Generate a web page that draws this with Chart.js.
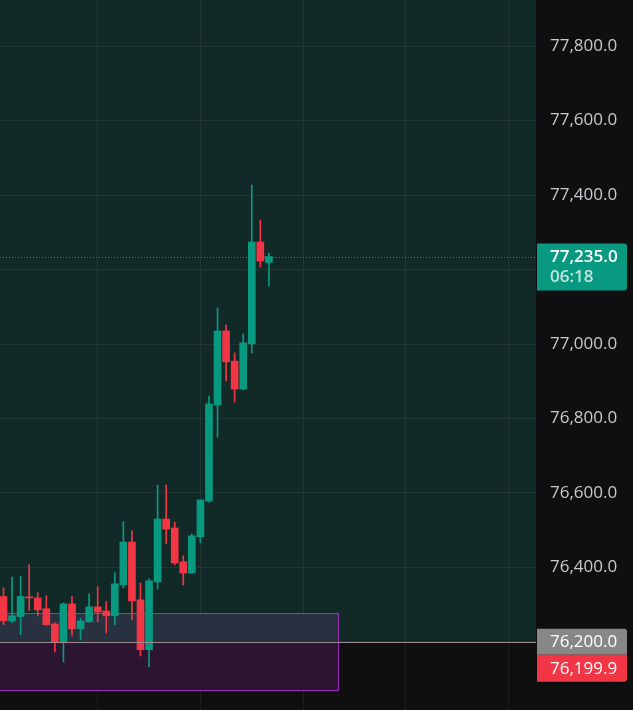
<!DOCTYPE html>
<html>
<head>
<meta charset="utf-8">
<title>Candles</title>
<script src="https://cdn.jsdelivr.net/npm/chart.js@4/dist/chart.umd.min.js"></script>
<style>
html, body { margin: 0; padding: 0; background: #0f0f0f; }
#wrap { width: 633px; height: 710px; position: relative; }
</style>
</head>
<body>
<div id="wrap"><canvas id="candles"></canvas></div>
<script>
// candle values, one per bar (oldest first)
var opens  = [76322, 76256, 76268, 76321, 76318, 76289, 76248, 76200, 76302, 76235, 76254, 76294, 76283, 76270, 76353, 76468,
              76313, 76179, 76361, 76530, 76506, 76415, 76385, 76482, 76578, 76836, 77035, 76954, 76879, 77000, 77274, 77219];
var highs  = [76345, 76374, 76377, 76407, 76332, 76324, 76251, 76305, 76322, 76264, 76329, 76348, 76308, 76386, 76523, 76498,
              76358, 76369, 76621, 76621, 76522, 76431, 76490, 76582, 76860, 77097, 77051, 76976, 77027, 77427, 77333, 77244];
var lows   = [76246, 76251, 76219, 76284, 76270, 76244, 76173, 76146, 76216, 76205, 76252, 76254, 76224, 76246, 76345, 76259,
              76162, 76133, 76342, 76463, 76407, 76353, 76383, 76466, 76575, 76750, 76901, 76844, 76877, 76976, 77207, 77156];
var closes = [76257, 76270, 76322, 76318, 76286, 76246, 76200, 76302, 76235, 76256, 76294, 76280, 76270, 76356, 76468, 76310,
              76179, 76364, 76530, 76503, 76412, 76385, 76485, 76581, 76839, 77035, 76952, 76879, 77003, 77274, 77223, 77235];

var priceTicks = [76200, 76400, 76600, 76800, 77000, 77200, 77400, 77600, 77800];
var timeGrid = [11, 23, 35, 47, 59];

var lastPrice = 77235;
var countdown = "06:18";
var levelPrice = 76200;
var bidPrice = 76199.9;

// rectangle drawing (bar index range, price range)
var zoneStart = -5;
var zoneEnd = 39.1;
var zoneTop = 76277;
var zoneBottom = 76070;

var UP = '#089981';
var DOWN = '#f23645';

function fmt(v) {
    return v.toLocaleString('en-US', { minimumFractionDigits: 1, maximumFractionDigits: 1 });
}

var colors = opens.map(function (o, i) { return closes[i] >= o ? UP : DOWN; });

var backdrop = {
    id: 'backdrop',
    beforeDraw: function (chart) {
        var ctx = chart.ctx, area = chart.chartArea, y = chart.scales.y;
        ctx.save();
        ctx.fillStyle = '#122a27';
        ctx.fillRect(area.left, area.top, area.right - area.left, y.getPixelForValue(levelPrice) - area.top);
        ctx.restore();
    },
    beforeDatasetsDraw: function (chart) {
        var ctx = chart.ctx, area = chart.chartArea, x = chart.scales.x, y = chart.scales.y;
        var x0 = Math.max(x.getPixelForValue(zoneStart), area.left - 2);
        var x1 = x.getPixelForValue(zoneEnd);
        var y0 = y.getPixelForValue(zoneTop), y1 = y.getPixelForValue(zoneBottom);
        var ym = y.getPixelForValue(levelPrice);
        ctx.save();
        // part over the green background, part over the dark one
        ctx.fillStyle = '#283140';
        ctx.fillRect(x0, y0, x1 - x0, ym - y0);
        ctx.fillStyle = '#2b1530';
        ctx.fillRect(x0, ym, x1 - x0, y1 - ym);
        ctx.strokeStyle = 'rgba(180, 50, 210, 0.85)';
        ctx.lineWidth = 1;
        ctx.strokeRect(x0, Math.round(y0) + 0.5, Math.round(x1 - x0) + 0.5, Math.round(y1 - y0));
        ctx.restore();
    },
    afterDatasetsDraw: function (chart) {
        var ctx = chart.ctx, area = chart.chartArea, y = chart.scales.y;
        ctx.save();
        // level line
        var yl = Math.round(y.getPixelForValue(levelPrice)) + 0.5;
        ctx.strokeStyle = '#a08c90';
        ctx.lineWidth = 1;
        ctx.beginPath();
        ctx.moveTo(area.left, yl);
        ctx.lineTo(area.right, yl);
        ctx.stroke();
        // last price dotted line
        var yp = Math.round(y.getPixelForValue(lastPrice)) + 0.5;
        ctx.strokeStyle = UP;
        ctx.setLineDash([1, 2]);
        ctx.beginPath();
        ctx.moveTo(area.left, yp);
        ctx.lineTo(area.right, yp);
        ctx.stroke();
        ctx.restore();
    },
    afterDraw: function (chart) {
        var ctx = chart.ctx, area = chart.chartArea, y = chart.scales.y;
        var left = area.right + 1, w = 90, tx = area.right + 14;
        ctx.save();
        ctx.textBaseline = 'middle';
        ctx.textAlign = 'left';

        var yp = y.getPixelForValue(lastPrice);
        ctx.fillStyle = UP;
        ctx.beginPath();
        ctx.roundRect(left, yp - 13, w, 47, [0, 3, 3, 0]);
        ctx.fill();
        ctx.fillStyle = '#ffffff';
        ctx.font = '600 17px "Open Sans"';
        ctx.fillText(fmt(lastPrice), tx, yp + 0.5);
        ctx.fillStyle = 'rgba(255,255,255,0.75)';
        ctx.font = '600 17px "Open Sans"';
        ctx.fillText(countdown, tx, yp + 21);

        var yl = y.getPixelForValue(levelPrice);
        ctx.fillStyle = '#878787';
        ctx.beginPath();
        ctx.roundRect(left, yl - 13, w, 26, [0, 3, 0, 0]);
        ctx.fill();
        ctx.fillStyle = DOWN;
        ctx.beginPath();
        ctx.roundRect(left, yl + 13, w, 27, [0, 0, 3, 0]);
        ctx.fill();
        ctx.fillStyle = '#ffffff';
        ctx.font = '17px "Open Sans"';
        ctx.fillText(fmt(levelPrice), tx, yl + 0.5);
        ctx.fillText(fmt(bidPrice), tx, yl + 27);
        ctx.restore();
    }
};

var chart = new Chart(document.getElementById('candles').getContext('2d'), {
    type: 'bar',
    data: {
        datasets: [
            {
                label: 'wick',
                data: highs.map(function (h, i) { return { x: i, y: [lows[i], h] }; }),
                backgroundColor: colors,
                barThickness: 1,
                grouped: false,
                order: 2
            },
            {
                label: 'body',
                data: opens.map(function (o, i) { return { x: i, y: [o, closes[i]] }; }),
                backgroundColor: colors,
                barThickness: 7,
                grouped: false,
                order: 1
            }
        ]
    },
    options: {
        responsive: true,
        maintainAspectRatio: false,
        animation: false,
        layout: { padding: 0 },
        plugins: {
            legend: { display: false },
            tooltip: { enabled: false }
        },
        scales: {
            x: {
                type: 'linear',
                min: -0.41,
                max: 62.2,
                offset: false,
                afterBuildTicks: function (scale) {
                    scale.ticks = timeGrid.map(function (v) { return { value: v }; });
                },
                afterFit: function (scale) {
                    scale.height = 0;
                    scale.paddingLeft = 0;
                    scale.paddingRight = 0;
                },
                ticks: { display: false },
                grid: { color: 'rgba(255,255,255,0.06)', drawTicks: false, offset: false },
                border: { display: false }
            },
            y: {
                position: 'right',
                min: 76017,
                max: 77924,
                afterBuildTicks: function (scale) {
                    scale.ticks = priceTicks.map(function (v) { return { value: v }; });
                },
                afterFit: function (scale) {
                    scale.width = 97;
                    scale.paddingTop = 0;
                    scale.paddingBottom = 0;
                },
                ticks: {
                    color: '#c8cacf',
                    padding: 14,
                    font: { family: '"Open Sans"', size: 17 },
                    callback: function (v) { return fmt(v); }
                },
                grid: { color: 'rgba(255,255,255,0.06)', drawTicks: false },
                border: { display: false }
            }
        }
    },
    plugins: [backdrop]
});
</script>
</body>
</html>
